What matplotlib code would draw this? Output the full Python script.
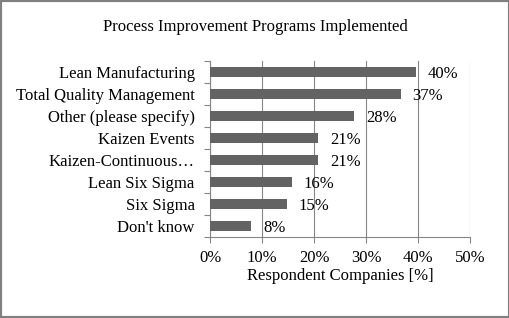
import matplotlib.pyplot as plt
from matplotlib.patches import Rectangle

programs = ["Lean Manufacturing", "Total Quality Management", "Other (please specify)",
            "Kaizen Events", "Kaizen-Continuous\u2026", "Lean Six Sigma", "Six Sigma", "Don't know"]
shares = [39.6, 36.7, 27.7, 20.8, 20.8, 15.8, 14.8, 7.9]
share_labels = ["40%", "37%", "28%", "21%", "21%", "16%", "15%", "8%"]
x_ticks = [0, 10, 20, 30, 40, 50]

plt.rcParams['font.family'] = ['Liberation Serif', 'DejaVu Serif']

fig = plt.figure(figsize=(5.1, 3.18), dpi=100)
ax = fig.add_axes([0.4118, 0.2547, 0.5098, 0.5535])

ypos = list(range(len(programs)))
ax.barh(ypos, shares, height=0.42, color="#636363", zorder=3)
for y, v, lab in zip(ypos, shares, share_labels):
    ax.annotate(lab, (v, y), xytext=(8.5, -1.5), textcoords="offset points",
                va="center", ha="left", fontsize=12, color="black", zorder=4)

ax.set_xlim(0, 50)
ax.set_ylim(len(programs) - 0.5, -0.5)
ax.set_xticks(x_ticks)
ax.set_xticklabels([f"{t}%" for t in x_ticks], fontsize=12)
ax.set_yticks([i - 0.5 for i in range(len(programs) + 1)], minor=False)
ax.set_yticklabels([])
ax.set_yticks(ypos, minor=True)
ax.set_yticklabels(programs, minor=True, fontsize=12)
ax.tick_params(axis="y", which="minor", length=0, pad=11)
ax.tick_params(axis="y", which="major", length=4, color="#868686", direction="out")
ax.tick_params(axis="x", length=4, color="#868686", direction="out", pad=5)
ax.grid(axis="x", color="#868686", linewidth=0.8, zorder=0)
for side in ["top", "right"]:
    ax.spines[side].set_visible(False)
for side in ["left", "bottom"]:
    ax.spines[side].set_color("#868686")
ax.set_xlabel("Respondent Companies [%]", fontsize=12, labelpad=2)

fig.suptitle("Process Improvement Programs Implemented", fontsize=12, y=0.94)
fig.patches.append(Rectangle((0, 0), 1, 1, transform=fig.transFigure, fill=False,
                             edgecolor="#808080", linewidth=3))

fig.savefig("out.png", dpi=100)
